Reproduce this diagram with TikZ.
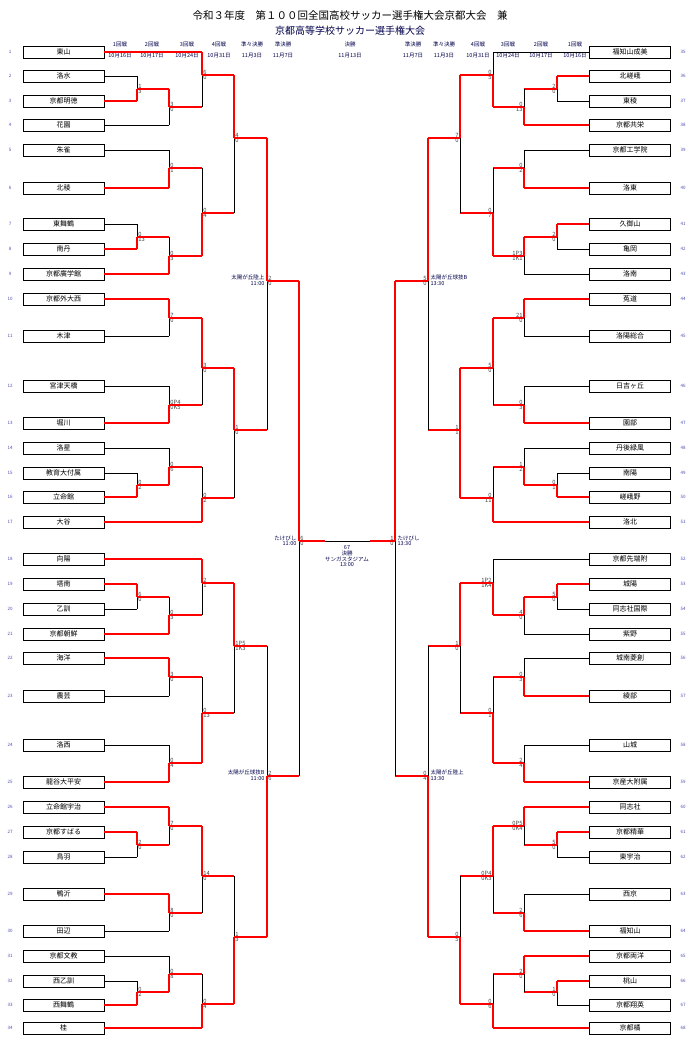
\documentclass[tikz,border=0pt]{standalone}
\usepackage{fontspec}
\setmainfont{Noto Sans CJK JP}
\begin{document}
\begin{tikzpicture}[x=1pt,y=-1pt,
  team/.style={draw,line width=0.9pt,minimum width=81pt,minimum height=12pt,inner sep=0pt,font=\fontsize{7}{7}\selectfont},
  num/.style={font=\fontsize{4.5}{4.5}\selectfont,text=blue!40!gray},
  sc/.style={font=\fontsize{5.8}{5.8}\selectfont,text=black!75,inner sep=0.4pt},
  hd/.style={font=\fontsize{5.5}{6}\selectfont,text=blue!30!black,align=center,inner sep=0pt},
  ven/.style={font=\fontsize{5.5}{5.8}\selectfont,text=blue!30!black,inner sep=0.4pt}]
\useasboundingbox[fill=white] (0,0) rectangle (694,1040);
\newcommand\M[9]{%
 \def\ca{black}\def\cb{black}\def\wa{0.8pt}\def\wb{0.8pt}%
 \ifnum#7=1\relax\def\ca{red}\def\wa{1.8pt}\fi
 \ifnum#7=2\relax\def\cb{red}\def\wb{1.8pt}\fi
 \ifnum#7=0\relax\def\ca{red}\def\wa{1.8pt}\def\cb{red}\def\wb{1.8pt}\fi
 \let\ha\ca\let\hwa\wa\let\hb\cb\let\hwb\wb
 \ifnum#2=104\relax\else\ifnum#2=589\relax\else\def\ha{red}\def\hwa{1.8pt}\fi\fi
 \ifnum#4=104\relax\else\ifnum#4=589\relax\else\def\hb{red}\def\hwb{1.8pt}\fi\fi
 \draw[draw=\ha,line width=\hwa] (#2,#3) -- (#1,#3);
 \draw[draw=\hb,line width=\hwb] (#4,#5) -- (#1,#5);
 \draw[draw=\ca,line width=\wa] (#1,#3) -- (#1,#6);
 \draw[draw=\cb,line width=\wb] (#1,#5) -- (#1,#6);
 \ifnum#1<347\relax
  \node[sc,anchor=south west] at (#1+0.8,#6) {#8};
  \node[sc,anchor=north west] at (#1+0.8,#6) {#9};
 \else
  \node[sc,anchor=south east] at (#1-0.8,#6) {#8};
  \node[sc,anchor=north east] at (#1-0.8,#6) {#9};
 \fi}
% header
\node[font=\fontsize{10.5}{11}\selectfont] (t1) at (350,16) {令和３年度　第１００回全国高校サッカー選手権大会京都大会　兼};
\node[font=\fontsize{10}{11}\selectfont,text=blue!30!black] (t2) at (350,31) {京都高等学校サッカー選手権大会};
\foreach \x/\r/\d [count=\i] in {120/1回戦/10月16日,152/2回戦/10月17日,187/3回戦/10月24日,219/4回戦/10月31日,252/準々決勝/11月3日,283/準決勝/11月7日,350/決勝/11月13日,413/準決勝/11月7日,444/準々決勝/11月3日,478/4回戦/10月31日,508/3回戦/10月24日,541/2回戦/10月17日,575/1回戦/10月16日}
  {\node[hd] (h\i) at (\x,44) {\r}; \node[hd] (d\i) at (\x,55.5) {\d};}
% teams
\foreach \n/\y [count=\i] in {東山/52,洛水/76,京都明徳/101,花園/125,朱雀/150,北稜/188,東舞鶴/224,南丹/249,京都廣学館/274,京都外大西/299,木津/336,宮津天橋/386,堀川/423,洛星/448,教育大付属/473,立命館/497,大谷/522,向陽/559,塔南/584,乙訓/609,京都朝鮮/634,海洋/658,農芸/696,洛西/745,龍谷大平安/782,立命館宇治/807,京都すばる/832,鳥羽/857,鴨沂/894,田辺/931,京都文教/956,西乙訓/981,西舞鶴/1005,桂/1028}
  {\node[team] (L\i) at (63.5,\y) {\n}; \node[num] at (10,\y) {\i};}
\foreach \n/\y [count=\i from 35] in {福知山成美/52,北嵯峨/76,東稜/101,京都共栄/125,京都工学院/150,洛東/188,久御山/224,亀岡/249,洛南/274,菟道/299,洛陽総合/336,日吉ヶ丘/386,園部/423,丹後緑風/448,南陽/473,嵯峨野/497,洛北/522,京都先端附/559,城陽/584,同志社国際/609,紫野/634,城南菱創/658,綾部/696,山城/745,京産大附属/782,同志社/807,京都精華/832,東宇治/857,西京/894,福知山/931,京都両洋/956,桃山/981,京都翔英/1005,京都橘/1028}
  {\node[team] (R\i) at (630,\y) {\n}; \node[num] at (683,\y) {\i};}
% left
\M{137}{104}{76}{104}{101}{89}{2}{1}{3}
\M{169}{137}{89}{104}{125}{107}{1}{3}{0}
\M{202}{104}{52}{169}{107}{75}{1}{6}{0}
\M{169}{104}{150}{104}{188}{168}{2}{0}{1}
\M{137}{104}{224}{104}{249}{237}{2}{0}{13}
\M{169}{137}{237}{104}{274}{256}{2}{0}{3}
\M{202}{169}{168}{169}{256}{213}{2}{0}{4}
\M{234}{202}{75}{202}{213}{138}{1}{4}{0}
\M{169}{104}{299}{104}{336}{318}{1}{7}{0}
\M{169}{104}{386}{104}{423}{405}{2}{0P4}{0K5}
\M{202}{169}{318}{169}{405}{368}{1}{3}{0}
\M{137}{104}{473}{104}{497}{485}{2}{0}{2}
\M{169}{104}{448}{137}{485}{467}{2}{0}{6}
\M{202}{169}{467}{104}{522}{498}{2}{0}{2}
\M{234}{202}{368}{202}{498}{430}{1}{1}{0}
\M{267}{234}{138}{234}{430}{281}{1}{2}{0}
\M{137}{104}{584}{104}{609}{597}{1}{6}{0}
\M{169}{137}{597}{104}{634}{615}{2}{0}{3}
\M{202}{104}{559}{169}{615}{583}{1}{2}{1}
\M{169}{104}{658}{104}{696}{677}{1}{3}{0}
\M{169}{104}{745}{104}{782}{763}{2}{0}{4}
\M{202}{169}{677}{169}{763}{713}{2}{0}{13}
\M{234}{202}{583}{202}{713}{646}{1}{1P5}{1K3}
\M{137}{104}{832}{104}{857}{845}{1}{2}{0}
\M{169}{104}{807}{137}{845}{826}{1}{7}{0}
\M{169}{104}{894}{104}{931}{913}{1}{8}{0}
\M{202}{169}{826}{169}{913}{876}{1}{14}{0}
\M{137}{104}{981}{104}{1005}{992}{2}{0}{2}
\M{169}{104}{956}{137}{992}{974}{2}{0}{8}
\M{202}{169}{974}{104}{1028}{1004}{2}{0}{4}
\M{234}{202}{876}{202}{1004}{937}{2}{1}{3}
\M{267}{234}{646}{234}{937}{776}{2}{2}{6}
\M{299}{267}{281}{267}{776}{541}{1}{6}{0}
% right
\M{557}{589}{76}{589}{101}{89}{1}{2}{0}
\M{524}{557}{89}{589}{125}{107}{2}{0}{13}
\M{493}{589}{52}{524}{107}{75}{2}{0}{5}
\M{524}{589}{150}{589}{188}{168}{2}{0}{2}
\M{557}{589}{224}{589}{249}{237}{1}{2}{0}
\M{524}{557}{237}{589}{274}{256}{1}{1P3}{1K1}
\M{493}{524}{168}{524}{256}{213}{2}{0}{7}
\M{460}{493}{75}{493}{213}{138}{1}{7}{0}
\M{524}{589}{299}{589}{336}{318}{1}{21}{0}
\M{524}{589}{386}{589}{423}{405}{2}{0}{3}
\M{493}{524}{318}{524}{405}{368}{1}{5}{0}
\M{557}{589}{473}{589}{497}{485}{2}{0}{1}
\M{524}{589}{448}{557}{485}{467}{2}{1}{2}
\M{493}{524}{467}{589}{522}{498}{2}{0}{11}
\M{460}{493}{368}{493}{498}{430}{0}{1}{1}
\M{428}{460}{138}{460}{430}{281}{1}{5}{0}
\M{557}{589}{584}{589}{609}{597}{1}{5}{0}
\M{524}{557}{597}{589}{634}{615}{1}{4}{0}
\M{493}{589}{559}{524}{615}{583}{2}{1P2}{1K4}
\M{524}{589}{658}{589}{696}{677}{2}{0}{3}
\M{524}{589}{745}{589}{782}{763}{2}{2}{4}
\M{493}{524}{677}{524}{763}{713}{2}{0}{1}
\M{460}{493}{583}{493}{713}{646}{1}{1}{0}
\M{557}{589}{832}{589}{857}{845}{1}{5}{0}
\M{524}{589}{807}{557}{845}{826}{1}{0P5}{0K4}
\M{524}{589}{894}{589}{931}{913}{2}{2}{6}
\M{493}{524}{826}{524}{913}{876}{1}{0P4}{0K3}
\M{557}{589}{981}{589}{1005}{992}{1}{1}{0}
\M{524}{589}{956}{557}{992}{974}{1}{2}{0}
\M{493}{524}{974}{589}{1028}{1004}{2}{0}{6}
\M{460}{493}{876}{493}{1004}{937}{2}{0}{5}
\M{428}{460}{646}{460}{937}{776}{2}{0}{4}
\M{395}{428}{281}{428}{776}{541}{1}{1}{0}
% final
\coordinate (fl) at (299,541); \coordinate (fr) at (395,541);
\coordinate (fm1) at (325,541); \coordinate (fm2) at (370,541);
\draw[line width=0.8pt] (fm1) -- (fm2);
\draw[red,line width=1.8pt] (fl) -- (fm1);
\draw[red,line width=1.8pt] (fm2) -- (fr);
\node[ven,align=center,anchor=north] (fin) at (347,545) {67\\決勝\\サンガスタジアム\\13:00};
% venues
\node[ven,anchor=south east] at (265,281) {太陽が丘陸上};
\node[ven,anchor=north east] at (265,281) {11:00};
\node[ven,anchor=south east] at (265,776) {太陽が丘球技B};
\node[ven,anchor=north east] at (265,776) {11:00};
\node[ven,anchor=south east] at (297,541) {たけびし};
\node[ven,anchor=north east] at (297,541) {11:00};
\node[ven,anchor=south west] at (430,281) {太陽が丘球技B};
\node[ven,anchor=north west] at (430,281) {13:30};
\node[ven,anchor=south west] at (430,776) {太陽が丘陸上};
\node[ven,anchor=north west] at (430,776) {13:30};
\node[ven,anchor=south west] at (397,541) {たけびし};
\node[ven,anchor=north west] at (397,541) {13:30};
\end{tikzpicture}
\end{document}
